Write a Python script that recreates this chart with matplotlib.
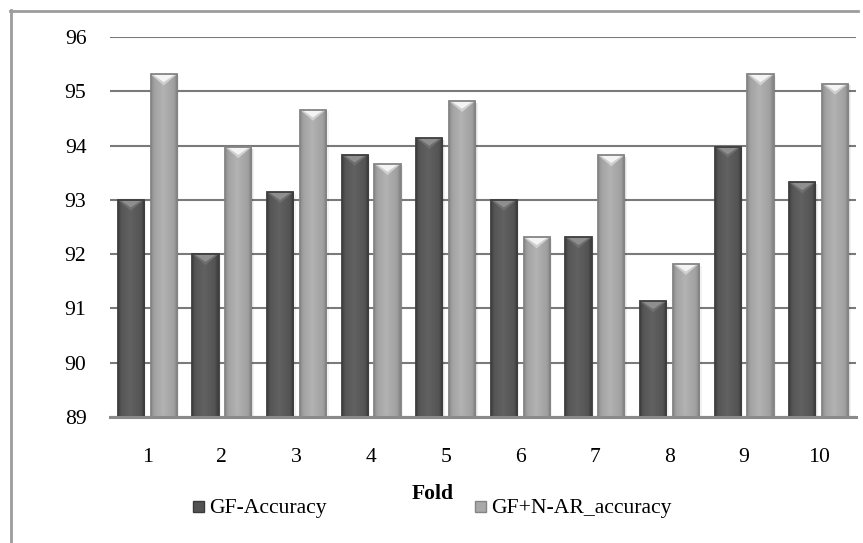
import numpy as np
import matplotlib
matplotlib.use("Agg")
import matplotlib.pyplot as plt
from matplotlib.patches import Polygon, Rectangle
from matplotlib.lines import Line2D

# Accuracy per cross-validation fold
folds = ["1", "2", "3", "4", "5", "6", "7", "8", "9", "10"]
gf_accuracy = [93.0, 92.0, 93.14, 93.83, 94.14, 93.0, 92.31, 91.13, 93.98, 93.32]
gf_nar_accuracy = [95.31, 93.97, 94.66, 93.66, 94.82, 92.31, 93.82, 91.82, 95.31, 95.14]
series_names = ["GF-Accuracy", "GF+N-AR_accuracy"]
y_ticks = [89, 90, 91, 92, 93, 94, 95, 96]
x_title = "Fold"

plt.rcParams['font.family'] = ['Liberation Serif', 'DejaVu Serif']
FS = 15.6

W, H = 863, 543
fig = plt.figure(figsize=(W / 100, H / 100), dpi=100)
ax = fig.add_axes([110 / W, 1 - 417 / H, (856 - 110) / W, (417 - 37) / H])

x = np.arange(len(folds))
bw = 0.35
off = 0.22
ymin, ymax = y_ticks[0], y_ticks[-1]


def gradient(stops_t, stops_v, n=96):
    t = np.linspace(0, 1, n)
    v = np.interp(t, stops_t, stops_v)
    return np.repeat(v[None, :, None], 3, axis=2)


def shaded_bars(xpos, vals, prof, edge, tri_top, tri_bot):
    bars = ax.bar(xpos, np.array(vals) - ymin, width=bw, bottom=ymin,
                  color=edge, edgecolor='none', zorder=3)
    px_per_unit = (417 - 37) / (ymax - ymin)
    th = 11 / px_per_unit
    for b in bars:
        x0, y0 = b.get_x(), b.get_y()
        w, h = b.get_width(), b.get_height()
        # soft shadow to the right
        for k, a in [(0.018, 0.08), (0.034, 0.05)]:
            ax.add_patch(Rectangle((x0 + k, y0), w, h - 0.03, facecolor='#000000',
                                   alpha=a, edgecolor='none', zorder=2.9))
        im = ax.imshow(prof, extent=[x0, x0 + w, y0, y0 + h], aspect='auto',
                       interpolation='bilinear', zorder=3.1)
        im.set_clip_path(b)
        # bevelled top
        top = y0 + h
        ax.add_patch(Polygon([[x0, top], [x0 + w, top], [x0 + w / 2, top - th]],
                             closed=True, facecolor=tri_bot, edgecolor='none', zorder=3.2))
        ax.add_patch(Polygon([[x0 + w * 0.08, top], [x0 + w * 0.92, top],
                              [x0 + w / 2, top - th * 0.7]],
                             closed=True, facecolor=tri_top, edgecolor='none', zorder=3.25))
        ax.add_patch(Rectangle((x0, y0), w, h, fill=False, edgecolor=edge,
                               lw=1.3, zorder=3.3))


t_stops = [0, 0.07, 0.14, 0.45, 0.85, 0.93, 1]
dark_prof = gradient(t_stops, [0.24, 0.30, 0.34, 0.38, 0.33, 0.27, 0.22])
light_prof = gradient(t_stops, [0.52, 0.60, 0.64, 0.70, 0.63, 0.56, 0.50])

shaded_bars(x - off, gf_accuracy, dark_prof, '#3e3e3e', '#8e8e8e', '#6e6e6e')
shaded_bars(x + off, gf_nar_accuracy, light_prof, '#858585', '#f4f4f4', '#cfcfcf')

ax.set_xlim(-0.5, len(folds) - 0.5)
ax.set_ylim(ymin, ymax)
ax.set_yticks(y_ticks)
ax.set_xticks(x)
ax.set_xticklabels(folds)
ax.yaxis.grid(True, color='#7a7a7a', lw=1.5, zorder=1)
ax.set_axisbelow(True)
for s in ['top', 'right', 'left']:
    ax.spines[s].set_visible(False)
ax.spines['bottom'].set_color('#8a8a8a')
ax.spines['bottom'].set_linewidth(2.2)
ax.spines['bottom'].set_zorder(4)
ax.tick_params(axis='y', length=0, pad=17, labelsize=FS)
ax.tick_params(axis='x', length=0, pad=22, labelsize=FS)

# outer chart frame
fig.add_artist(Line2D([10.5 / W, 10.5 / W], [0, 1 - 10 / H], transform=fig.transFigure,
                      color='#9c9c9c', lw=2))
fig.add_artist(Line2D([10 / W, 858 / W], [1 - 10.5 / H, 1 - 10.5 / H], transform=fig.transFigure,
                      color='#9c9c9c', lw=2))

fig.text(433 / W, 1 - 494 / H, x_title, ha='center', va='center',
         fontsize=FS, fontweight='bold')

# legend
leg = [(193, series_names[0], '#525252', '#3a3a3a'),
       (475, series_names[1], '#a9a9a9', '#858585')]
for lx, name, fc, ec in leg:
    fig.add_artist(Rectangle((lx / W, 1 - 512 / H), 11 / W, 11 / H, transform=fig.transFigure,
                             facecolor=fc, edgecolor=ec, lw=1))
    fig.text((lx + 16) / W, 1 - 513.5 / H, name, ha='left', va='baseline', fontsize=FS)

fig.savefig("out.png", dpi=100)
